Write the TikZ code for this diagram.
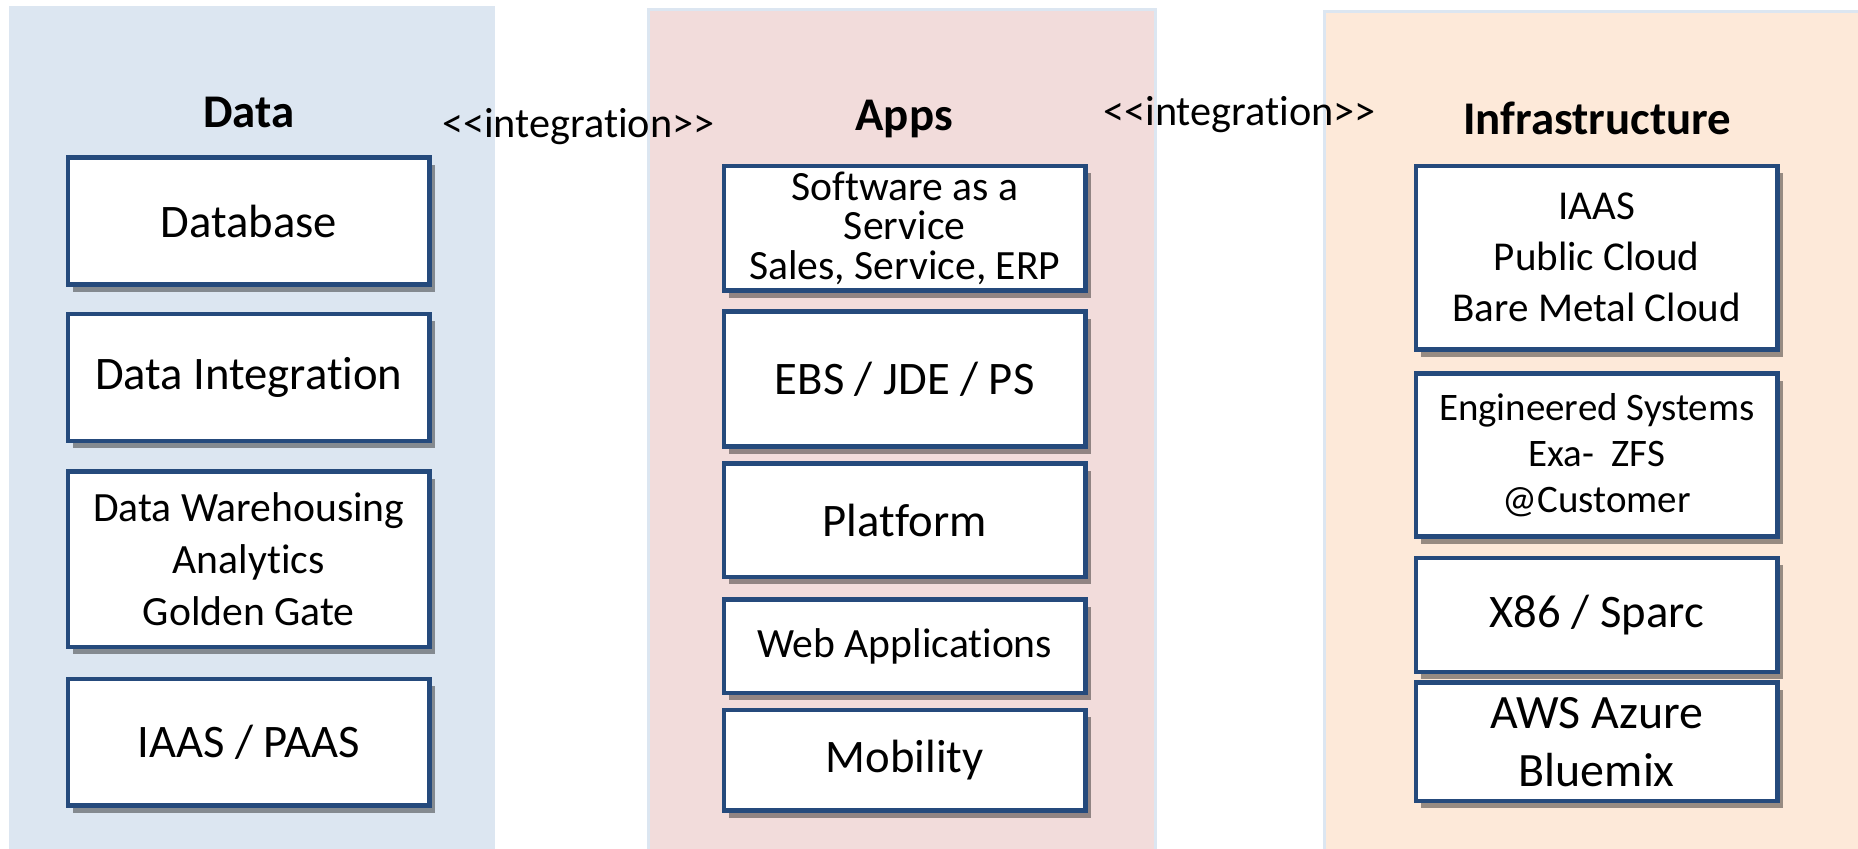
\documentclass[tikz,border=0pt]{standalone}
\usepackage{fontspec}
\setmainfont{Carlito}[Ligatures=NoCommon]
\usetikzlibrary{positioning, shadows}
\definecolor{dataBg}{HTML}{DCE6F1}
\definecolor{appsBg}{HTML}{F2DCDB}
\definecolor{infraBg}{HTML}{FDE9D9}
\definecolor{boxLine}{HTML}{254A7C}
\begin{document}
\begin{tikzpicture}[box/.style={draw=boxLine, line width=2.2pt, fill=white, minimum width=6.1cm, align=center, inner sep=2pt, drop shadow={shadow xshift=2.5pt, shadow yshift=-3.5pt, fill=black, opacity=.4}, font=\fontsize{22.4}{27}\selectfont},
  small/.style={font=\fontsize{20}{25}\selectfont},
  title/.style={font=\bfseries\fontsize{22.5}{27}\selectfont},
  integ/.style={font=\fontsize{20.3}{24}\selectfont}]
  \useasboundingbox (0,0) rectangle (31.36,-14.32);
  % panels
  \fill[dataBg] (0.16,-0.10) rectangle (8.36,-14.4);
  \filldraw[fill=appsBg, draw=dataBg, line width=1.5pt] (10.94,-0.16) rectangle (19.50,-14.5);
  \filldraw[fill=infraBg, draw=dataBg, line width=1.5pt] (22.36,-0.20) rectangle (31.7,-14.5);

  \node[title] (tData) at (4.2,-1.9) {Data};
  \node[title] (tApps) at (15.26,-2.0) {Apps};
  \node[title] (tInfra) at (26.96,-2.0) {Infrastructure};
  \node[integ] (int1) at (9.76,-2.14) {<{}<integration>{}>};
  \node[integ] (int2) at (20.92,-1.94) {<{}<integration>{}>};

  % data
  \node[box, minimum height=2.14cm] (db) at (4.2,-3.73) {Database};
  \node[box, minimum height=2.14cm] (dint) at (4.2,-6.37) {Data Integration};
  \node[box, small, minimum height=2.96cm] (dw) at (4.2,-9.44) {Data Warehousing\\Analytics\\Golden Gate};
  \node[box, minimum height=2.14cm] (ipaas) at (4.2,-12.53) {IAAS / PAAS};

  % apps
  \node[box, font=\fontsize{20}{19}\selectfont, minimum height=2.1cm] (saas) at (15.27,-3.85) {Software as a\\Service\\Sales, Service, ERP};
  \node[box, minimum height=2.28cm] (ebs) at (15.27,-6.40) {EBS / JDE / PS};
  \node[box, minimum height=1.92cm] (plat) at (15.27,-8.78) {Platform};
  \node[box, small, minimum height=1.58cm] (web) at (15.27,-10.91) {Web Applications};
  \node[box, minimum height=1.70cm] (mob) at (15.27,-12.83) {Mobility};

  % infrastructure
  \node[box, font=\fontsize{19.7}{24.5}\selectfont, minimum height=3.1cm] (iaas) at (26.95,-4.35) {IAAS\\Public Cloud\\Bare Metal Cloud};
  \node[box, font=\fontsize{18.7}{22}\selectfont, minimum height=2.76cm] (eng) at (26.95,-7.68) {Engineered Systems\\Exa-~ ZFS\\@Customer};
  \node[box, minimum height=1.92cm] (x86) at (26.95,-10.38) {X86 / Sparc};
  \node[box, font=\fontsize{23}{28}\selectfont, minimum height=2.0cm] (aws) at (26.95,-12.52) {AWS Azure\\Bluemix};
\end{tikzpicture}
\end{document}
